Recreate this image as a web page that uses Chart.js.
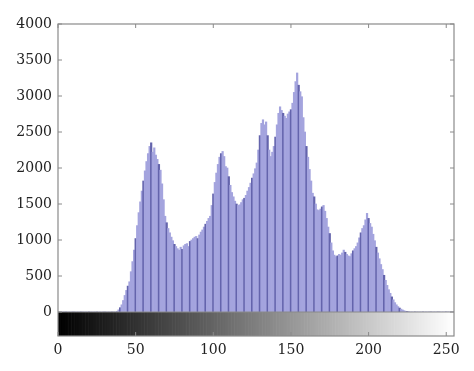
<!DOCTYPE html>
<html>
<head>
<meta charset="utf-8">
<script src="https://cdn.jsdelivr.net/npm/chart.js@4/dist/chart.umd.min.js"></script>
<style>
  html, body { margin: 0; padding: 0; background: #fff; }
  #wrap { width: 474px; height: 371px; }
</style>
</head>
<body>
<div id="wrap"><canvas id="histChart"></canvas></div>
<script>
// Gray-level histogram data (levels 0..255)
const grayLevels = Array.from({ length: 256 }, (_, i) => i);

// pixel counts, one per gray level
const counts = [
    // 0 - 37
    0, 0, 0, 0, 0, 0, 0, 0, 0, 0, 0, 0, 0, 0, 0, 0, 0, 0, 0, 0,
    0, 0, 0, 0, 0, 0, 0, 0, 0, 0, 0, 0, 0, 0, 0, 0, 0, 0,
    // 38 - 59
    10, 30, 60, 100, 160, 230, 300, 360, 420, 560, 700, 860, 1020, 1200, 1380, 1530,
    1680, 1820, 1960, 2090, 2200, 2300,
    // 60 - 99
    2350, 2220, 2280, 2180, 2120, 2050, 1970, 1780, 1560, 1330,
    1240, 1160, 1100, 1040, 990, 940, 910, 880, 860, 900,
    870, 920, 940, 950, 910, 980, 1000, 1020, 1040, 1050,
    1020, 1070, 1110, 1140, 1180, 1220, 1260, 1300, 1330, 1480,
    // 100 - 139
    1640, 1800, 1930, 2050, 2150, 2200, 2230, 2160, 2020, 2000,
    1880, 1760, 1660, 1600, 1540, 1500, 1480, 1490, 1520, 1560,
    1580, 1620, 1680, 1730, 1790, 1860, 1920, 1990, 2070, 2250,
    2450, 2620, 2670, 2600, 2640, 2450, 2250, 2160, 2220, 2300,
    // 140 - 179
    2430, 2600, 2760, 2850, 2800, 2760, 2720, 2690, 2750, 2780,
    2810, 2900, 3050, 3200, 3320, 3150, 3060, 2990, 2700, 2500,
    2300, 2150, 1980, 1820, 1650, 1600, 1500, 1420, 1410, 1430,
    1460, 1480, 1400, 1300, 1180, 1090, 960, 850, 790, 770,
    // 180 - 227
    780, 800, 790, 820, 860, 830, 800, 780, 770, 810,
    850, 880, 910, 960, 1030, 1100, 1160, 1200, 1280, 1370,
    1300, 1230, 1180, 1080, 990, 900, 820, 740, 660, 590,
    510, 440, 370, 310, 260, 210, 170, 130, 100, 75,
    55, 40, 28, 18, 10, 6, 3, 1,
    // 228 - 255
    0, 0, 0, 0, 0, 0, 0, 0, 0, 0, 0, 0, 0, 0, 0, 0, 0, 0, 0, 0,
    0, 0, 0, 0, 0, 0, 0, 0
];

const xTicks = [0, 50, 100, 150, 200, 250];
const yTicks = [0, 500, 1000, 1500, 2000, 2500, 3000, 3500, 4000];

const FONT = { family: 'DejaVu Serif', size: 14 };
const BOX = '#8a8a8a';

/**
 * Frame, tick marks and the gray colour bar under the bars
 */
const framePlugin = {
    id: 'frame',
    afterDraw(chart) {
        const { ctx, chartArea: a, scales } = chart;
        const x = scales.x, y = scales.y;
        const barTop = a.bottom, barBottom = a.bottom + 24;

        // gray ramp
        for (let i = 0; i < 256; i++) {
            let x0 = Math.max(a.left, x.getPixelForValue(i - 0.5));
            let x1 = Math.min(a.right, x.getPixelForValue(i + 0.5));
            ctx.fillStyle = `rgb(${i},${i},${i})`;
            ctx.fillRect(x0, barTop, x1 - x0 + 0.6, barBottom - barTop);
        }

        ctx.save();
        ctx.strokeStyle = BOX;
        ctx.lineWidth = 1.2;
        ctx.strokeRect(a.left, a.top, a.right - a.left, barBottom - a.top);
        ctx.beginPath();
        ctx.moveTo(a.left, barTop);
        ctx.lineTo(a.right, barTop);
        ctx.stroke();

        // small inward ticks
        ctx.lineWidth = 1;
        ctx.beginPath();
        yTicks.forEach(v => {
            const py = y.getPixelForValue(v);
            ctx.moveTo(a.left, py); ctx.lineTo(a.left + 4, py);
            ctx.moveTo(a.right, py); ctx.lineTo(a.right - 4, py);
        });
        xTicks.forEach(v => {
            const px = x.getPixelForValue(v);
            ctx.moveTo(px, a.top); ctx.lineTo(px, a.top + 4);
            ctx.moveTo(px, barBottom); ctx.lineTo(px, barBottom - 4);
        });
        ctx.stroke();
        ctx.restore();
    }
};

const barColors = grayLevels.map(i => (i % 5 === 0 ? '#6464ac' : '#a4a4de'));

const ctx = document.getElementById('histChart').getContext('2d');
new Chart(ctx, {
    type: 'bar',
    data: {
        datasets: [{
            data: grayLevels.map(i => ({ x: i, y: counts[i] })),
            backgroundColor: barColors,
            borderWidth: 0,
            barPercentage: 1,
            categoryPercentage: 1
        }]
    },
    options: {
        responsive: true,
        maintainAspectRatio: false,
        animation: false,
        layout: { padding: { left: 0, right: 20, top: 24, bottom: 0 } },
        plugins: {
            legend: { display: false },
            tooltip: { enabled: false }
        },
        scales: {
            x: {
                type: 'linear',
                min: 0,
                max: 255,
                offset: false,
                // long invisible ticks push the labels below the gray bar
                grid: { display: true, drawOnChartArea: false, drawTicks: true, tickLength: 28, tickColor: 'rgba(0,0,0,0)' },
                border: { display: false },
                afterBuildTicks: s => { s.ticks = xTicks.map(v => ({ value: v })); },
                afterFit: s => { s.height = 59; },
                ticks: { color: '#222', font: FONT, padding: 2, maxRotation: 0, callback: v => String(v) }
            },
            y: {
                min: 0,
                max: 4000,
                grid: { display: false, drawTicks: false },
                border: { display: false },
                afterBuildTicks: s => { s.ticks = yTicks.map(v => ({ value: v })); },
                afterFit: s => { s.width = 58; },
                ticks: { color: '#222', font: FONT, padding: 6, callback: v => String(v) }
            }
        }
    },
    plugins: [framePlugin]
});
</script>
</body>
</html>
